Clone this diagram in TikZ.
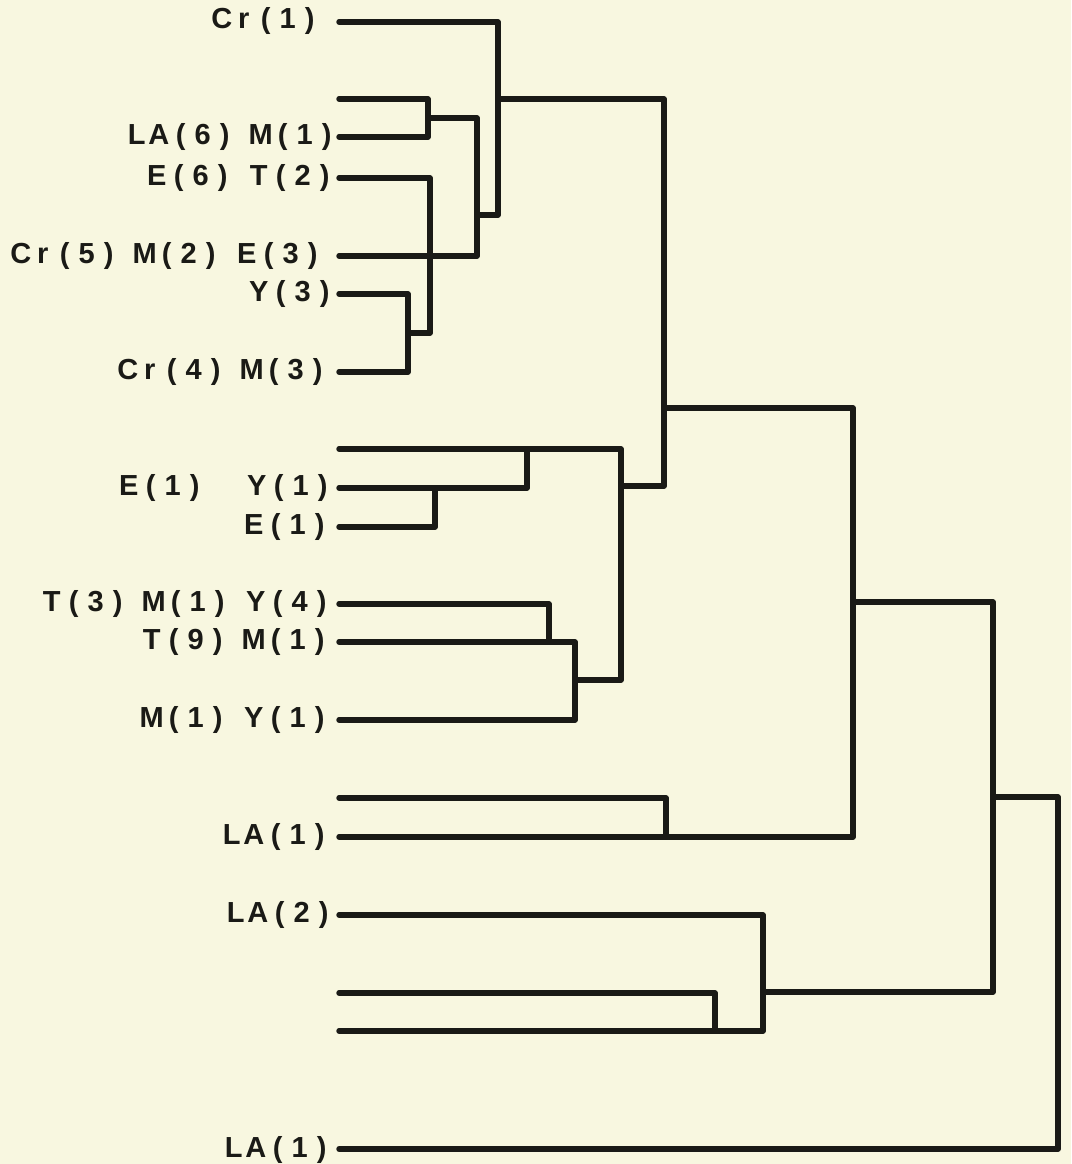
\documentclass[tikz,border=0pt]{standalone}
\usepackage{fontspec}
\setmainfont{Liberation Sans}
\newfontfamily\lblfont{Liberation Sans}
\definecolor{paper}{HTML}{F8F7E0}
\definecolor{ink}{HTML}{1A1A16}
% lettering-guide style text: every character sits in a cell of fixed width,
% a "|" stands for one word space
\newlength\cellw
\setlength\cellw{22pt}
\newlength\gapw
\setlength\gapw{14pt}
\def\pitched#1{\pitchstep#1\relax}
\def\pitchstep#1{%
  \ifx#1\relax\else
    \ifx#1|\hspace*{\gapw}\else\makebox[\cellw][c]{#1}\fi
    \expandafter\pitchstep
  \fi}
\begin{document}
\begin{tikzpicture}[x=1pt,y=-1pt,
  branch/.style={draw=ink,line width=5.4pt,line cap=round,line join=round},
  lbl/.style={anchor=base east,inner sep=0pt,text=ink,
    font=\lblfont\bfseries\fontsize{29}{34}\selectfont}]
  \fill[paper] (0,0) rectangle (1071,1164);
  \useasboundingbox (0,0) rectangle (1071,1164);

  % leaf start points
  \foreach \n/\y in {1/22,2/99,3/137,4/178,5/256,6/294,7/372,8/449,9/488,10/527,
                     11/604,12/642,13/720,14/798,15/837,16/915,17/993,18/1031,19/1149}
    \coordinate (s\n) at (339,\y);

  % labels
  \node[lbl] (t1)  at (321,29)   {\pitched{Cr(1)}};
  \node[lbl] (t3)  at (338,144)  {\pitched{LA(6)|M(1)}};
  \node[lbl] (t4)  at (336,185)  {\pitched{E(6)|T(2)}};
  \node[lbl] (t5)  at (324,263)  {\pitched{Cr(5)|M(2)|E(3)}};
  \node[lbl] (t6)  at (336,301)  {\pitched{Y(3)}};
  \node[lbl] (t7)  at (329,379)  {\pitched{Cr(4)|M(3)}};
  \node[lbl] (t9)  at (334,495)  {\pitched{E(1)||}\hspace{12pt}\pitched{Y(1)}};
  \node[lbl] (t10) at (331,534)  {\pitched{E(1)}};
  \node[lbl] (t11) at (333,611)  {\pitched{T(3)|M(1)|Y(4)}};
  \node[lbl] (t12) at (331,649)  {\pitched{T(9)|M(1)}};
  \node[lbl] (t13) at (331,727)  {\pitched{M(1)|Y(1)}};
  \node[lbl] (t15) at (331,844)  {\pitched{LA(1)}};
  \node[lbl] (t16) at (335,922)  {\pitched{LA(2)}};
  \node[lbl] (t19) at (333,1157) {\pitched{LA(1)}};

  % join points
  \coordinate (a)  at (428,118);
  \coordinate (b)  at (408,333);
  \coordinate (c)  at (430,256);
  \coordinate (d)  at (477,215);
  \coordinate (e)  at (498,99);
  \coordinate (f)  at (435,488);
  \coordinate (g)  at (527,449);
  \coordinate (h)  at (549,642);
  \coordinate (i)  at (575,680);
  \coordinate (j)  at (621,486);
  \coordinate (r)  at (664,408);
  \coordinate (k)  at (666,837);
  \coordinate (m)  at (853,602);
  \coordinate (n)  at (715,1031);
  \coordinate (o)  at (763,992);
  \coordinate (p)  at (993,797);
  \coordinate (q)  at (1058,900);

  % upper cluster
  \draw[branch] (s2) -| (a) |- (s3);
  \draw[branch] (a) -| (d) |- (s5);
  \draw[branch] (s6) -| (b) |- (s7);
  \draw[branch] (s4) -| (c) |- (b);
  \draw[branch] (s1) -| (e) |- (d);

  % middle cluster
  \draw[branch] (s10) -| (f);
  \draw[branch] (s9) -| (g);
  \draw[branch] (s11) -| (h);
  \draw[branch] (s12) -| (i) |- (s13);
  \draw[branch] (s8) -| (j) |- (i);
  \draw[branch] (e) -| (r) |- (j);

  % lower clusters
  \draw[branch] (s14) -| (k);
  \draw[branch] (r) -| (m) |- (s15);
  \draw[branch] (s17) -| (n);
  \draw[branch] (s16) -| (o) |- (s18);
  \draw[branch] (m) -| (p) |- (o);
  \draw[branch] (p) -| (q) |- (s19);
\end{tikzpicture}
\end{document}
